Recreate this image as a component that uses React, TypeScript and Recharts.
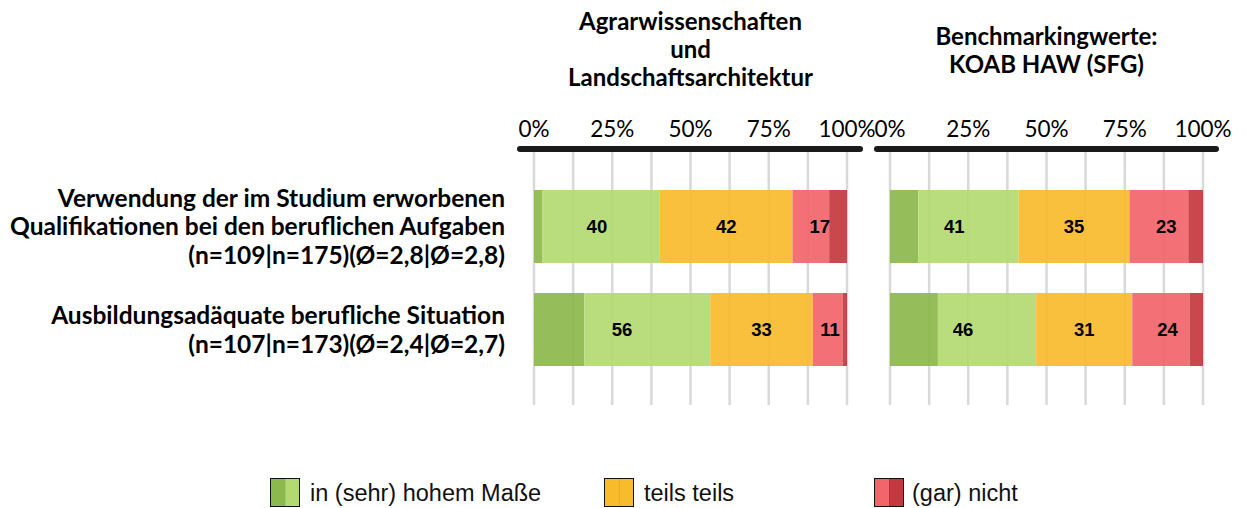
import { BarChart, Bar, XAxis, YAxis, CartesianGrid, LabelList } from "recharts";

// Kategorien (Zeilen der Y-Achse)
const categoryLines = [
  [
    "Verwendung der im Studium erworbenen",
    "Qualifikationen bei den beruflichen Aufgaben",
    "(n=109|n=175)(Ø=2,8|Ø=2,8)",
  ],
  ["Ausbildungsadäquate berufliche Situation", "(n=107|n=173)(Ø=2,4|Ø=2,7)"],
];

const panelTitles = [
  ["Agrarwissenschaften", "und", "Landschaftsarchitektur"],
  ["Benchmarkingwerte:", "KOAB HAW (SFG)"],
];

const percentTicks = [0, 12.5, 25, 37.5, 50, 62.5, 75, 87.5, 100];

// Agrarwissenschaften und Landschaftsarchitektur
const agrarSehrHoch = [2.7, 16.1];
const agrarHoch = [37.5, 40.2];
const agrarTeils = [42.4, 32.8];
const agrarNicht = [11.7, 9.6];
const agrarGarNicht = [5.7, 1.3];
const agrarGruenLabel = [40, 56];
const agrarTeilsLabel = [42, 33];
const agrarRotLabel = [17, 11];

// Benchmarkingwerte: KOAB HAW (SFG)
const koabSehrHoch = [9.0, 15.3];
const koabHoch = [32.1, 31.4];
const koabTeils = [35.4, 30.7];
const koabNicht = [18.8, 18.3];
const koabGarNicht = [4.7, 4.3];
const koabGruenLabel = [41, 46];
const koabTeilsLabel = [35, 31];
const koabRotLabel = [23, 24];

const legendItems = [
  { name: "in (sehr) hohem Maße", left: "#8cb94d", right: "#b3da72", x: 270, tx: 310 },
  { name: "teils teils", left: "#f8bb2c", right: "#f8bb2c", x: 604, tx: 644 },
  { name: "(gar) nicht", left: "#f2656a", right: "#c7373f", x: 874, tx: 912 },
];

const colors = {
  sehrHoch: "#8cb94d",
  hoch: "#b3da72",
  teils: "#f8bb2c",
  nicht: "#f2656a",
  garNicht: "#c7373f",
};

const buildRows = (
  sehrHoch: number[],
  hoch: number[],
  teils: number[],
  nicht: number[],
  garNicht: number[],
  gruenL: number[],
  teilsL: number[],
  rotL: number[]
) =>
  categoryLines.map((_, i) => ({
    key: String(i),
    sehrHoch: sehrHoch[i],
    hoch: hoch[i],
    teils: teils[i],
    nicht: nicht[i],
    garNicht: garNicht[i],
    gruenLabel: gruenL[i],
    teilsLabel: teilsL[i],
    rotLabel: rotL[i],
  }));

const agrarRows = buildRows(
  agrarSehrHoch, agrarHoch, agrarTeils, agrarNicht, agrarGarNicht,
  agrarGruenLabel, agrarTeilsLabel, agrarRotLabel
);
const koabRows = buildRows(
  koabSehrHoch, koabHoch, koabTeils, koabNicht, koabGarNicht,
  koabGruenLabel, koabTeilsLabel, koabRotLabel
);

const calibri = "Lato, 'Open Sans', sans-serif";
const arial = "'Liberation Sans', Arial, sans-serif";

// label centred over the combined category (both greens / both reds)
const makeLabel = (rows: any[], mode: "gruen" | "teils" | "rot") => (props: any) => {
  const vb = props.viewBox || props;
  const x = Number(vb.x ?? props.x);
  const y = Number(vb.y ?? props.y);
  const width = Number(vb.width ?? props.width);
  const height = Number(vb.height ?? props.height);
  const row = rows[props.index] || rows[0];
  let x0 = x;
  let x1 = x + width;
  if (mode === "gruen") x0 = x - (width * row.sehrHoch) / row.hoch;
  if (mode === "rot") x1 = x + width + (width * row.garNicht) / row.nicht;
  return (
    <text
      x={(x0 + x1) / 2}
      y={y + height / 2}
      dy="0.36em"
      textAnchor="middle"
      fontFamily={arial}
      fontWeight={700}
      fontSize={18.5}
      fill="#000"
    >
      {props.value}
    </text>
  );
};

const PercentTick = (props: any) => {
  const { x, payload } = props;
  if (payload.value % 25 !== 0) return <g />;
  return (
    <text x={x} y={37} textAnchor="middle" fontFamily={calibri} fontSize={22.5} fill="#000">
      {payload.value}%
    </text>
  );
};

const CategoryTick = (props: any) => {
  const { y, payload } = props;
  const lines = categoryLines[Number(payload.value)] || [];
  const lh = 28.5;
  const top = y - ((lines.length - 1) * lh) / 2;
  return (
    <text textAnchor="end" fontFamily={calibri} fontWeight={700} fontSize={24.5} fill="#000">
      {lines.map((l, k) => (
        <tspan key={k} x={505} y={top + k * lh} dy="0.36em">
          {l}
        </tspan>
      ))}
    </text>
  );
};

const Panel = ({ rows, withLabels, left, width, margin, padding }: any) => {
  // grid only at the tick values, inside the padded range
  const gridX = (p: any) => {
    const o = p.offset || {};
    const x0 = o.left + padding.left;
    const w = o.width - padding.left - padding.right;
    return percentTicks.map((t) => x0 + (t / 100) * w);
  };
  return (
    <div style={{ position: "absolute", left, top: 100 }}>
      <BarChart
        width={width}
        height={320}
        data={rows}
        layout="vertical"
        margin={margin}
        barSize={73}
      >
        <CartesianGrid
          horizontal={false}
          stroke="#d9d9d9"
          strokeWidth={2.5}
          verticalCoordinatesGenerator={gridX}
        />
        <XAxis
          type="number"
          orientation="top"
          domain={[0, 100]}
          ticks={percentTicks}
          interval={0}
          height={30}
          padding={padding}
          tickLine={false}
          tick={<PercentTick />}
          axisLine={{ stroke: "#1a1a1a", strokeWidth: 6, strokeLinecap: "round" }}
        />
        <YAxis
          type="category"
          dataKey="key"
          width={withLabels ? 520 : 0}
          hide={!withLabels}
          padding={{ top: 26, bottom: 24 }}
          tickLine={false}
          axisLine={false}
          tick={<CategoryTick />}
          interval={0}
        />
        <Bar dataKey="sehrHoch" stackId="s" fill={colors.sehrHoch} fillOpacity={0.92} isAnimationActive={false} />
        <Bar dataKey="hoch" stackId="s" fill={colors.hoch} fillOpacity={0.92} isAnimationActive={false}>
          <LabelList dataKey="gruenLabel" content={makeLabel(rows, "gruen")} />
        </Bar>
        <Bar dataKey="teils" stackId="s" fill={colors.teils} fillOpacity={0.92} isAnimationActive={false}>
          <LabelList dataKey="teilsLabel" content={makeLabel(rows, "teils")} />
        </Bar>
        <Bar dataKey="nicht" stackId="s" fill={colors.nicht} fillOpacity={0.92} isAnimationActive={false}>
          <LabelList dataKey="rotLabel" content={makeLabel(rows, "rot")} />
        </Bar>
        <Bar dataKey="garNicht" stackId="s" fill={colors.garNicht} fillOpacity={0.92} isAnimationActive={false} />
      </BarChart>
    </div>
  );
};

const Title = ({ lines, center, top }: { lines: string[]; center: number; top: number }) => (
  <div
    style={{
      position: "absolute",
      left: center - 200,
      width: 400,
      top,
      textAlign: "center",
      fontFamily: calibri,
      fontWeight: 700,
      fontSize: 24,
      lineHeight: "28px",
      color: "#000",
    }}
  >
    {lines.map((l) => (
      <div key={l}>{l}</div>
    ))}
  </div>
);

export default function App() {
  return (
    <div
      style={{
        position: "absolute",
        left: 0,
        top: 0,
        width: 1247,
        height: 508,
        background: "#fff",
        overflow: "hidden",
      }}
    >
      <Title lines={panelTitles[0]} center={690.5} top={7} />
      <Title lines={panelTitles[1]} center={1046.5} top={22} />
      <Panel
        rows={agrarRows}
        withLabels
        left={0}
        width={880}
        margin={{ top: 19, right: 20, bottom: 15, left: 0 }}
        padding={{ left: 14, right: 13 }}
      />
      <Panel
        rows={koabRows}
        withLabels={false}
        left={860}
        width={380}
        margin={{ top: 19, right: 24, bottom: 15, left: 17 }}
        padding={{ left: 13, right: 13 }}
      />
      {legendItems.map((it) => (
        <div key={it.name}>
          <div
            style={{
              position: "absolute",
              left: it.x,
              top: 478,
              width: 28,
              height: 27,
              border: "1.5px solid #111",
              display: "flex",
            }}
          >
            <div style={{ flex: 1, background: it.left }} />
            <div style={{ flex: 1, background: it.right, borderLeft: "1px solid rgba(0,0,0,0.08)" }} />
          </div>
          <div
            style={{
              position: "absolute",
              left: it.tx,
              top: 479,
              fontFamily: arial,
              fontSize: 23.5,
              lineHeight: "28px",
              color: "#111",
              whiteSpace: "nowrap",
            }}
          >
            {it.name}
          </div>
        </div>
      ))}
    </div>
  );
}
